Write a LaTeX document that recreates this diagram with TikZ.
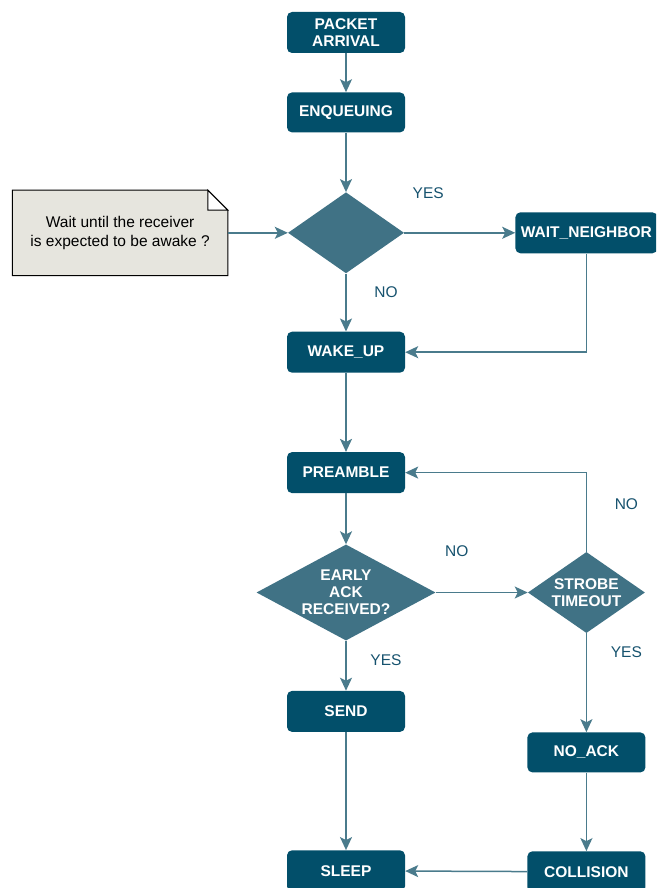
\documentclass[tikz,border=0pt]{standalone}
\usepackage{fontspec}
\setmainfont{Liberation Sans}
\usepackage{tikz}
\usetikzlibrary{
  arrows.meta,
  positioning,
  shapes.geometric,
  calc
}
\definecolor{stepfill}{RGB}{2,79,106}
\definecolor{testfill}{RGB}{64,114,133}
\definecolor{wire}{RGB}{74,123,140}
\definecolor{answer}{RGB}{22,82,110}
\definecolor{memo}{RGB}{230,229,222}

\begin{document}
\begin{tikzpicture}[
  x=1pt,y=1pt,
  node distance=40pt,
  state/.style={rectangle,rounded corners=5pt,fill=stepfill,text=white,align=center,minimum width=118pt,minimum height=41pt,inner sep=2pt,font=\bfseries\fontsize{15.5}{17}\selectfont},
  test/.style={diamond,fill=testfill,text=white,align=center,inner sep=0pt,font=\bfseries\fontsize{15.5}{17}\selectfont},
  answer/.style={text=answer,font=\fontsize{15.5}{17}\selectfont},
  arrow/.style={-{Stealth[length=13pt,width=12pt,inset=3pt]},line width=1.5pt,draw=wire},
]
\useasboundingbox (0,0) rectangle (656,-888);
\clip (0,0) rectangle (656,-888);

\node[state] (arrival) at (346,-32.5) {PACKET\\ARRIVAL};
\node[state,below=39pt of arrival,minimum height=40pt] (enqueue) {ENQUEUING};
\node[test,below=59.5pt of enqueue,minimum width=116pt,minimum height=81pt] (awake) {};
\node[minimum width=215pt,minimum height=85pt,align=center,inner sep=0pt,left=60pt of awake] (note) {};
\node[state,right=111pt of awake,minimum width=142pt] (neighbor) {WAIT\_NEIGHBOR};
\node[state,below=58pt of awake] (wakeup) {WAKE\_UP};
\node[state,below=79pt of wakeup] (preamble) {PREAMBLE};
\node[test,below=51pt of preamble,aspect=1.86,minimum width=179pt,minimum height=96pt] (early) {EARLY\\ACK\\RECEIVED?};
\node[test,right=92pt of early,aspect=1.44,minimum width=117pt,minimum height=81pt] (strobe) {STROBE\\TIMEOUT};
\node[state,below=50pt of early] (send) {SEND};
\node[state,below=118pt of send] (sleep) {SLEEP};
\node[state,below=99pt of strobe,minimum height=40pt] (noack) {NO\_ACK};
\node[state,below=78.5pt of noack] (collision) {COLLISION};

% note with folded corner
\draw[fill=memo,line width=1pt] (note.south west) -- (note.north west) -- ([xshift=-20pt]note.north east) -- ([yshift=-20pt]note.north east) -- (note.south east) -- cycle;
\draw[fill=white,line width=1pt] ([xshift=-20pt]note.north east) |- ([yshift=-20pt]note.north east) -- cycle;
\node[align=center,font=\fontsize{15.5}{18.5}\selectfont] (memo) at (note) {Wait until the receiver\\is expected to be awake ?};

\draw[arrow] (arrival) -- (enqueue);
\draw[arrow] (enqueue) -- (awake);
\draw[arrow] (note) -- (awake);
\draw[arrow] (awake) -- node[answer,at start,xshift=24pt,yshift=40pt] (yes1) {YES} (neighbor);
\draw[arrow] (awake) -- node[answer,at start,xshift=40pt,yshift=-19pt] (no1) {NO} (wakeup);
\draw[arrow] (neighbor.south) |- (wakeup.east);
\draw[arrow] (wakeup) -- (preamble);
\draw[arrow] (preamble) -- (early);
\draw[arrow] (early) -- node[answer,at start,xshift=21pt,yshift=41pt] (no2) {NO} (strobe);
\draw[arrow] (strobe.north) |- node[answer,pos=0.3,xshift=40pt] (no3) {NO} (preamble.east);
\draw[arrow] (early) -- node[answer,at start,xshift=40pt,yshift=-19pt] (yes2) {YES} (send);
\draw[arrow] (strobe) -- node[answer,at start,xshift=40pt,yshift=-19pt] (yes3) {YES} (noack);
\draw[arrow] (send) -- (sleep);
\draw[arrow] (noack) -- (collision);
\draw[arrow] (collision) -- (sleep);
\end{tikzpicture}
\end{document}
